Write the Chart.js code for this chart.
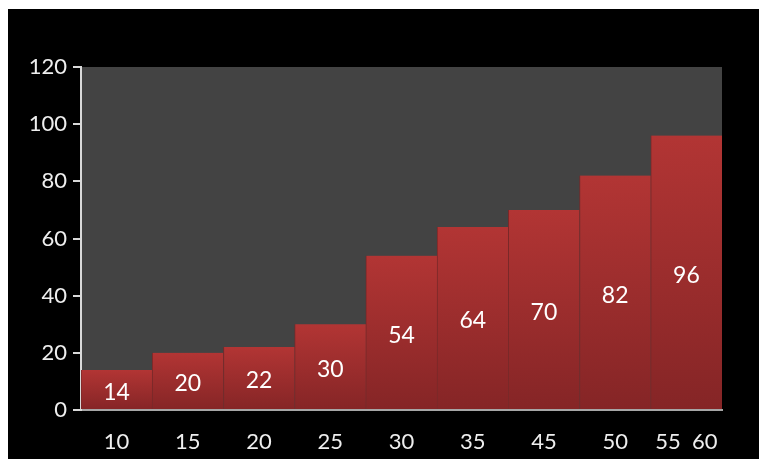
<!DOCTYPE html>
<html>
<head>
<meta charset="utf-8">
<script src="https://cdn.jsdelivr.net/npm/chart.js@4"></script>
<style>
  html, body { margin: 0; padding: 0; background: #fff; }
  #wrap { position: absolute; left: 8px; top: 9px; width: 751px; height: 450px; background: #000; }
</style>
</head>
<body>
<div id="wrap"><canvas id="chart" width="751" height="450"></canvas></div>
<script>
// Data
const categories = ['10', '15', '20', '25', '30', '35', '45', '50', '55  60'];
const values = [14, 20, 22, 30, 54, 64, 70, 82, 96];
const yTicks = [0, 20, 40, 60, 80, 100, 120];

const FONT = 'Lato, "Open Sans", sans-serif';

// gray plot background
const plotBg = {
    id: 'plotBg',
    beforeDraw(chart) {
        const { ctx, chartArea: a } = chart;
        ctx.save();
        ctx.fillStyle = '#434343';
        ctx.fillRect(a.left, a.top, a.right - a.left, a.bottom - a.top);
        ctx.restore();
    }
};

// value labels in the middle of each bar
const barLabels = {
    id: 'barLabels',
    afterDatasetsDraw(chart) {
        const ctx = chart.ctx;
        const meta = chart.getDatasetMeta(0);
        ctx.save();
        ctx.fillStyle = '#ffffff';
        ctx.font = '23px ' + FONT;
        ctx.textAlign = 'center';
        ctx.textBaseline = 'middle';
        meta.data.forEach((bar, i) => {
            ctx.fillText(values[i], bar.x, (bar.y + bar.base) / 2 + 3);
        });
        ctx.restore();
    }
};

function barGradient(context) {
    const chart = context.chart;
    const y = chart.scales.y;
    if (!chart.chartArea || !y || context.parsed === undefined) return '#a02f2f';
    const top = y.getPixelForValue(context.parsed.y);
    const base = y.getPixelForValue(0);
    const g = chart.ctx.createLinearGradient(0, top, 0, base);
    g.addColorStop(0, '#b23534');
    g.addColorStop(1, '#852526');
    return g;
}

new Chart(document.getElementById('chart'), {
    type: 'bar',
    data: {
        labels: categories,
        datasets: [{
            data: values,
            backgroundColor: barGradient,
            borderColor: '#7a2828',
            borderWidth: { left: 1, right: 0, top: 0, bottom: 0 },
            borderSkipped: false,
            categoryPercentage: 1,
            barPercentage: 1
        }]
    },
    options: {
        responsive: false,
        animation: false,
        layout: { padding: { top: 58, right: 37, bottom: 0, left: 0 } },
        plugins: {
            legend: { display: false },
            tooltip: { enabled: false }
        },
        scales: {
            x: {
                offset: true,
                grid: { display: true, drawOnChartArea: false, drawTicks: false },
                border: { display: true, color: '#a6a6a6', width: 2 },
                ticks: {
                    color: '#eeeeee',
                    font: { family: FONT, size: 22 },
                    padding: 19,
                    maxRotation: 0,
                    autoSkip: false
                },
                afterFit(scale) { scale.height = 49; }
            },
            y: {
                min: 0,
                max: 120,
                grid: { display: true, drawOnChartArea: false, color: '#d9d9d9', lineWidth: 2, tickLength: 8 },
                border: { display: true, color: '#d9d9d9', width: 2 },
                afterBuildTicks(scale) { scale.ticks = yTicks.map(v => ({ value: v })); },
                ticks: {
                    color: '#eeeeee',
                    font: { family: FONT, size: 22 },
                    padding: 6
                },
                afterFit(scale) { scale.width = 73; }
            }
        }
    },
    plugins: [plotBg, barLabels]
});
</script>
</body>
</html>
